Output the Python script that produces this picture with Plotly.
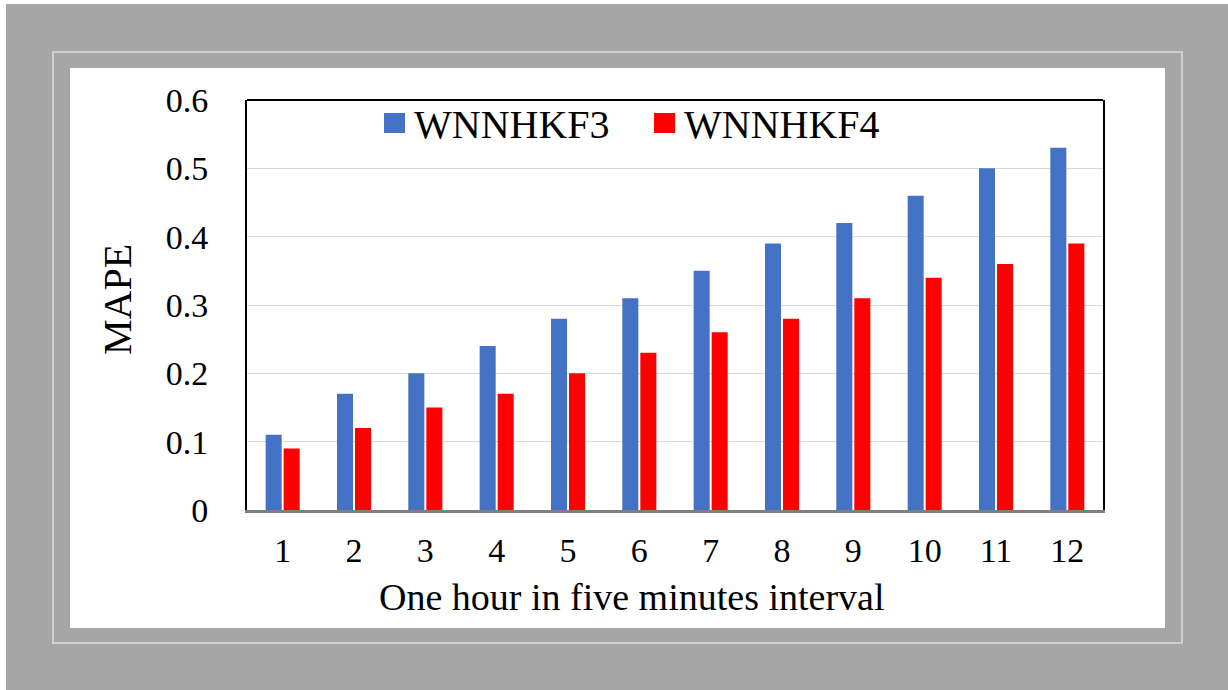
import plotly.graph_objects as go

# Forecast horizon steps (five-minute intervals within one hour)
intervals = [str(i) for i in range(1, 13)]
series_names = ["WNNHKF3", "WNNHKF4"]
mape_wnnhkf3 = [0.11, 0.17, 0.20, 0.24, 0.28, 0.31, 0.35, 0.39, 0.42, 0.46, 0.50, 0.53]
mape_wnnhkf4 = [0.09, 0.12, 0.15, 0.17, 0.20, 0.23, 0.26, 0.28, 0.31, 0.34, 0.36, 0.39]
y_ticks = [0, 0.1, 0.2, 0.3, 0.4, 0.5, 0.6]
y_tick_text = ["0", "0.1", "0.2", "0.3", "0.4", "0.5", "0.6"]
x_title = "One hour in five minutes interval"
y_title = "MAPE"
colors = ["#4472C4", "#FF0000"]

W, H = 1228, 690
L, R, T, B = 247, 1103, 100, 510  # plot area in pixels
FONT = "Liberation Serif, Times New Roman, serif"


def px(x):
    return (x - L) / (R - L)


def py(y):
    return (B - y) / (B - T)


fig = go.Figure()
for name, vals, col in zip(series_names, [mape_wnnhkf3, mape_wnnhkf4], colors):
    fig.add_trace(go.Bar(
        x=intervals, y=vals, name=name, marker_color=col,
        marker_line_width=0, showlegend=False,
    ))

shapes = [
    # grey surround
    dict(type="rect", xref="paper", yref="paper", x0=px(6), x1=px(W + 5), y0=py(4), y1=py(H + 5),
         fillcolor="#A6A6A6", line_width=0, layer="below"),
    # thin light frame
    dict(type="rect", xref="paper", yref="paper", x0=px(53), x1=px(1182), y0=py(52), y1=py(643),
         fillcolor="rgba(0,0,0,0)", line=dict(color="#DCDCDC", width=1.5), layer="below"),
    # white chart panel
    dict(type="rect", xref="paper", yref="paper", x0=px(70), x1=px(1165), y0=py(68), y1=py(628),
         fillcolor="white", line_width=0, layer="below"),
    # top border of plot area
    dict(type="line", xref="paper", yref="paper", x0=0, x1=1, y0=1, y1=1,
         line=dict(color="black", width=2)),
]

annotations = []
legend_x = [384, 654]
for name, col, lx in zip(series_names, colors, legend_x):
    shapes.append(dict(type="rect", xref="paper", yref="paper",
                       x0=px(lx), x1=px(lx + 21), y0=py(133), y1=py(113),
                       fillcolor=col, line_width=0))
    annotations.append(dict(xref="paper", yref="paper", x=px(lx + 28), y=py(124),
                            text=name, showarrow=False, xanchor="left", yanchor="middle",
                            font=dict(family=FONT, size=40, color="black")))

# axis titles
annotations.append(dict(xref="paper", yref="paper", x=px(632), y=py(597),
                        text=x_title, showarrow=False, xanchor="center", yanchor="middle",
                        font=dict(family=FONT, size=38, color="black")))
annotations.append(dict(xref="paper", yref="paper", x=px(117), y=py(300),
                        text=y_title, showarrow=False, xanchor="center", yanchor="middle",
                        textangle=-90, font=dict(family=FONT, size=40, color="black")))

fig.update_layout(
    width=W, height=H,
    margin=dict(l=L, r=W - R, t=T, b=H - B, autoexpand=False),
    paper_bgcolor="white", plot_bgcolor="white",
    barmode="group", bargap=0.495, bargroupgap=0.11,
    font=dict(family=FONT, color="black"),
    shapes=shapes, annotations=annotations,
    xaxis=dict(
        showline=True, linecolor="#7F7F7F", linewidth=2.5,
        showgrid=False, ticks="", ticklabelstandoff=8,
        tickfont=dict(family=FONT, size=34, color="black"),
    ),
    yaxis=dict(
        range=[0, 0.6], tickvals=y_ticks, ticktext=y_tick_text,
        showline=True, linecolor="black", linewidth=2, mirror=True,
        showgrid=True, gridcolor="#D9D9D9", gridwidth=1, zeroline=False,
        ticks="", ticklabelstandoff=30,
        tickfont=dict(family=FONT, size=34, color="black"),
    ),
)

fig.write_html("out.html")
